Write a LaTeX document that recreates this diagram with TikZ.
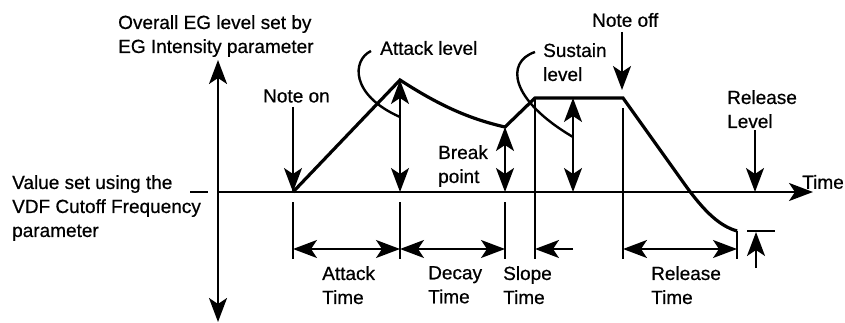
\documentclass[tikz,border=0pt]{standalone}
\usepackage{fontspec}
\setmainfont{Liberation Sans}[FakeBold=0.6]
\usetikzlibrary{arrows.meta}
\begin{document}
\begin{tikzpicture}[x=1pt,y=-1pt,
  >={Stealth[length=24pt,width=18pt,inset=6pt]},
  env/.style={line width=3.2pt,line join=miter},
  ax/.style={line width=2.3pt},
  thinl/.style={line width=2pt},
  lead/.style={line width=2.4pt},
  txt/.style={font=\fontsize{19}{24}\selectfont, inner sep=0pt, align=left},
  lbl/.style={txt, anchor=north west}]
\useasboundingbox (0,0) rectangle (845,323);
% coordinates
\coordinate (axTop) at (218,60);
\coordinate (axBot) at (218,322);
\coordinate (axO) at (218,192);
\coordinate (axEnd) at (813,192);
\coordinate (dashL) at (190,192);
\coordinate (dashR) at (208,192);
\coordinate (e0) at (293,192);
\coordinate (e1) at (400,80);
\coordinate (e2) at (505,127);
\coordinate (e3) at (535,98);
\coordinate (e4) at (623,98);
\coordinate (e5) at (683,182);
\coordinate (e6) at (737,231);
\coordinate (b1) at (400,192);
\coordinate (b2) at (505,192);
\coordinate (b3) at (573,192);
\coordinate (b4) at (755,192);
\coordinate (s3) at (573,98);
\coordinate (noTop) at (293,107);
\coordinate (nfTop) at (622,32);
\coordinate (nfBot) at (622,90);
\coordinate (t0a) at (293,202); \coordinate (t0b) at (293,259);
\coordinate (t1a) at (400,202); \coordinate (t1b) at (400,259);
\coordinate (t2a) at (505,202); \coordinate (t2b) at (505,259);
\coordinate (t3a) at (535,98);  \coordinate (t3b) at (535,259);
\coordinate (t4a) at (623,108); \coordinate (t4b) at (623,259);
\coordinate (t6b) at (737,259);
\coordinate (h0) at (293,249); \coordinate (h1) at (400,249);
\coordinate (h2) at (505,249); \coordinate (h3) at (535,249);
\coordinate (h3r) at (573,249);
\coordinate (h4) at (623,249); \coordinate (h6) at (737,249);
\coordinate (rlTop) at (755,130);
\coordinate (bar1) at (747,231); \coordinate (bar2) at (775,231);
\coordinate (baB) at (756,268); \coordinate (baT) at (756,232);
\coordinate (alS) at (371,51); \coordinate (alE) at (400,117);
\coordinate (slS) at (535,52); \coordinate (slE) at (573,137);
% labels
\node[lbl] (top) at (118,15) {Overall EG level set by\\EG Intensity parameter};
\node[lbl] (val) at (12,175) {Value set using the\\VDF Cutoff Frequency\\parameter};
\node[txt,anchor=west] (non) at (263,96) {Note on};
\node[txt,anchor=west] (nof) at (592,20) {Note off};
\node[txt,anchor=west] (atl) at (380,48) {Attack level};
\node[lbl] (sul) at (543,43) {Sustain\\level};
\node[lbl] (brk) at (438,145) {Break\\point};
\node[lbl] (rel) at (727,90) {Release\\Level};
\node[txt,anchor=east] (tim) at (844,182) {Time};
\node[lbl] (att) at (322,266) {Attack\\Time};
\node[lbl] (dct) at (428,266) {Decay\\Time};
\node[lbl] (slt) at (503,266) {Slope\\Time};
\node[lbl] (rlt) at (651,266) {Release\\Time};
% axes
\draw[ax,<->] (axBot) -- (axTop);
\draw[ax,->] (axO) -- (axEnd);
\draw[ax] (dashL) -- (dashR);
% envelope
\draw[env] (e0) -- (e1) .. controls (440,106) and (470,119) .. (e2) -- (e3) -- (e4) -- (e5) .. controls (705,213) and (720,226) .. (e6);
% level arrows
\draw[thinl,<->] (b1) -- (e1);
\draw[thinl,<->] (b2) -- (e2);
\draw[thinl,<->] (b3) -- (s3);
\draw[thinl,->] (noTop) -- (e0);
\draw[thinl,->] (nfTop) -- (nfBot);
\draw[thinl,->] (rlTop) -- (b4);
% leaders
\draw[lead] (alS) .. controls (352,60) and (350,95) .. (alE);
\draw[lead] (slS) .. controls (505,62) and (510,100) .. (slE);
% ticks
\draw[thinl] (t0a) -- (t0b);
\draw[thinl] (t1a) -- (t1b);
\draw[thinl] (t2a) -- (t2b);
\draw[thinl] (t3a) -- (t3b);
\draw[thinl] (t4a) -- (t4b);
\draw[thinl] (e6) -- (t6b);
% time arrows
\draw[thinl,<->] (h0) -- (h1);
\draw[thinl,<->] (h1) -- (h2);
\draw[thinl,->] (h3r) -- (h3);
\draw[thinl,<->] (h4) -- (h6);
% release level bar
\draw[thinl] (bar1) -- (bar2);
\draw[thinl,->] (baB) -- (baT);
\end{tikzpicture}
\end{document}
